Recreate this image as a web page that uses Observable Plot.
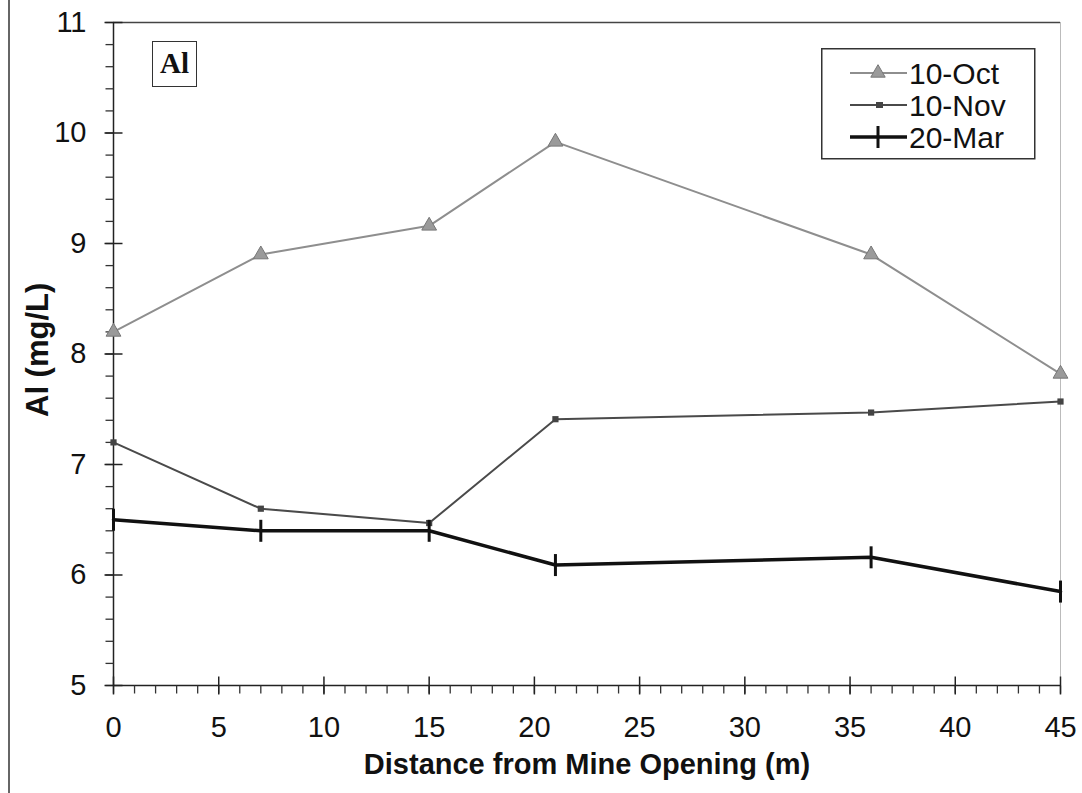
<!DOCTYPE html>
<html><head><meta charset="utf-8">
<script src="https://cdn.jsdelivr.net/npm/d3@7"></script>
<script src="https://cdn.jsdelivr.net/npm/@observablehq/plot@0.6"></script>
<style>
body{margin:0;background:#fff;font-family:"Liberation Sans",Arial,sans-serif;}
#wrap{position:relative;width:1082px;height:793px;overflow:hidden;}
#pageEdge{position:absolute;left:8px;top:0;width:1.5px;height:793px;background:#666;}
#tag{position:absolute;left:152px;top:41px;width:45px;height:46px;box-sizing:border-box;border:1.5px solid #333;background:#fff;
  font-family:"Liberation Serif","Times New Roman",serif;font-weight:bold;font-size:29px;line-height:43px;text-align:center;color:#111;}
#legend{position:absolute;left:821px;top:48px;}
</style></head><body>
<div id="wrap"><div id="pageEdge"></div></div>
<script>
// ---- data ----
const distances = [0, 7, 15, 21, 36, 45];
const seriesNames = ["10-Oct", "10-Nov", "20-Mar"];
const octValues = [8.2, 8.9, 9.16, 9.92, 8.9, 7.82];
const novValues = [7.2, 6.6, 6.47, 7.41, 7.47, 7.57];
const marValues = [6.5, 6.4, 6.4, 6.09, 6.16, 5.85];
const xMajorTicks = [0, 5, 10, 15, 20, 25, 30, 35, 40, 45];
const xMinorTicks = d3.range(0, 46, 1);
const yMajorTicks = [5, 6, 7, 8, 9, 10, 11];
const yMinorTicks = d3.range(5, 11.001, 0.2).map(v => +v.toFixed(1));
const panelLabel = "Al";
const xTitle = "Distance from Mine Opening (m)";
const yTitle = "Al (mg/L)";

const toRows = (name, vals) => distances.map((x, i) => ({series: name, x, y: vals[i]}));
const oct = toRows(seriesNames[0], octValues);
const nov = toRows(seriesNames[1], novValues);
const mar = toRows(seriesNames[2], marValues);

// custom symbols
const rOf = s => Math.sqrt(s / Math.PI);
const vBar = {draw(c, s){const r = rOf(s); c.moveTo(0, -r); c.lineTo(0, r);}};
const hBar = {draw(c, s){const r = rOf(s); c.moveTo(-r, 0); c.lineTo(r, 0);}};
const hLeft = {draw(c, s){const r = rOf(s); c.moveTo(-r, 0); c.lineTo(0, 0);}};
const vDown = {draw(c, s){const r = rOf(s); c.moveTo(0, 0); c.lineTo(0, r);}};

const octColor = "#8e8e8e", novColor = "#4a4a4a", marColor = "#111";

const chart = Plot.plot({
  width: 1082, height: 793,
  marginLeft: 113, marginRight: 22, marginTop: 22, marginBottom: 108,
  style: {fontFamily: "'Liberation Sans', Arial, sans-serif", background: "transparent", color: "#111"},
  x: {domain: [0, 45], axis: null},
  y: {domain: [5, 11], axis: null},
  marks: [
    Plot.ruleY([11], {stroke: "#444", strokeWidth: 1.5}),
    Plot.ruleX([45], {stroke: "#bbb", strokeWidth: 1}),
    Plot.ruleX([0], {stroke: "#222", strokeWidth: 1.5}),
    Plot.ruleY([5], {stroke: "#222", strokeWidth: 1.5}),
    // y ticks
    Plot.dot(yMinorTicks, {x: () => 0, y: d => d, symbol: hLeft, r: 8, fill: "none", stroke: "#333", strokeWidth: 1.3}),
    Plot.dot(yMajorTicks, {x: () => 0, y: d => d, symbol: hBar, r: 9, fill: "none", stroke: "#222", strokeWidth: 1.5}),
    // x ticks
    Plot.dot(xMinorTicks, {x: d => d, y: () => 5, symbol: vDown, r: 8, fill: "none", stroke: "#333", strokeWidth: 1.3}),
    Plot.dot(xMajorTicks, {x: d => d, y: () => 5, symbol: vBar, r: 9, fill: "none", stroke: "#222", strokeWidth: 1.5}),
    // tick labels
    Plot.axisY({ticks: yMajorTicks, tickFormat: d => String(d), tickSize: 0, tickPadding: 27, fontSize: 29, label: null, anchor: "left"}),
    Plot.axisX({ticks: xMajorTicks, tickFormat: d => String(d), tickSize: 0, tickPadding: 31, fontSize: 29, label: null, anchor: "bottom"}),
    // titles
    Plot.text([xTitle], {frameAnchor: "bottom", dy: 79, lineAnchor: "middle", fontSize: 29, fontWeight: "bold", fill: "#111"}),
    Plot.text([yTitle], {frameAnchor: "left", dx: -75, dy: 63, rotate: -90, lineAnchor: "middle", fontSize: 31, fontWeight: "bold", fill: "#111"}),
    // series
    Plot.line(oct, {x: "x", y: "y", stroke: octColor, strokeWidth: 2}),
    Plot.dot(oct, {x: "x", y: "y", symbol: "triangle", r: 5.5, fill: "#9a9a9a", stroke: "#777", strokeWidth: 1}),
    Plot.line(nov, {x: "x", y: "y", stroke: novColor, strokeWidth: 2}),
    Plot.dot(nov, {x: "x", y: "y", symbol: "square", r: 3.5, fill: "#444", stroke: "none"}),
    Plot.line(mar, {x: "x", y: "y", stroke: marColor, strokeWidth: 3.5}),
    Plot.dot(mar, {x: "x", y: "y", symbol: vBar, r: 11, fill: "none", stroke: marColor, strokeWidth: 3})
  ]
});
const wrap = document.getElementById("wrap");
chart.style.position = "absolute";
chart.style.left = "0px";
chart.style.top = "0px";
wrap.appendChild(chart);

// panel tag
const tag = document.createElement("div");
tag.id = "tag";
tag.textContent = panelLabel;
wrap.appendChild(tag);

// legend
const legendStyles = [
  {color: octColor, width: 2, marker: "tri"},
  {color: novColor, width: 2, marker: "sq"},
  {color: marColor, width: 3.5, marker: "bar"}
];
const lg = d3.select(wrap).append("svg").attr("id", "legend").attr("width", 215).attr("height", 112);
lg.append("rect").attr("x", 0.75).attr("y", 0.75).attr("width", 213).attr("height", 110)
  .attr("fill", "#fff").attr("stroke", "#333").attr("stroke-width", 1.5);
seriesNames.forEach((name, i) => {
  const s = legendStyles[i];
  const cy = 25 + i * 32;
  const g = lg.append("g");
  g.append("line").attr("x1", 29).attr("x2", 86).attr("y1", cy).attr("y2", cy)
    .attr("stroke", s.color).attr("stroke-width", s.width);
  if (s.marker === "tri") {
    g.append("path").attr("d", d3.symbol(d3.symbolTriangle, 90)()).attr("transform", `translate(57,${cy})`)
      .attr("fill", "#9a9a9a").attr("stroke", "#777");
  } else if (s.marker === "sq") {
    g.append("rect").attr("x", 55).attr("y", cy - 3).attr("width", 7).attr("height", 6).attr("fill", "#444");
  } else {
    g.append("line").attr("x1", 57).attr("x2", 57).attr("y1", cy - 11).attr("y2", cy + 11)
      .attr("stroke", s.color).attr("stroke-width", 3);
  }
  g.append("text").attr("x", 88).attr("y", cy).attr("dy", "0.36em").attr("font-size", 30)
    .attr("font-family", "'Liberation Sans', Arial, sans-serif").attr("fill", "#111").text(name);
});
</script>
</body></html>
